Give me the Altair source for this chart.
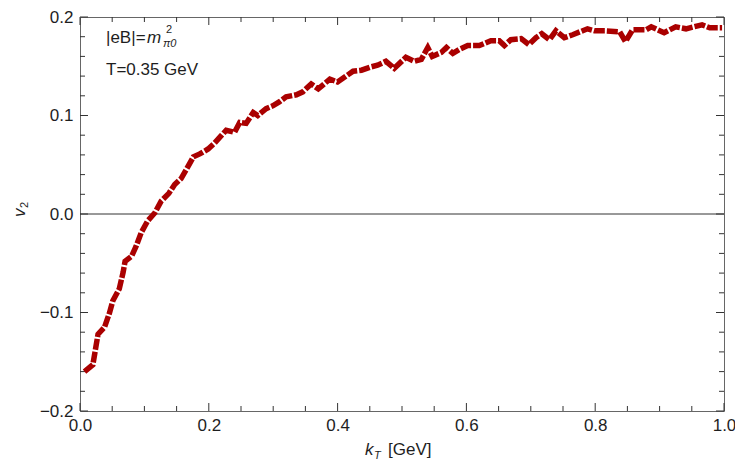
import altair as alt
import pandas as pd

# ---- data ----
kt = [0.007, 0.020, 0.028, 0.038, 0.046, 0.051, 0.061, 0.067, 0.070, 0.080,
      0.087, 0.095, 0.105, 0.116, 0.126, 0.138, 0.147, 0.157, 0.165, 0.176,
      0.186, 0.199, 0.209, 0.220, 0.227, 0.240, 0.248, 0.258, 0.269, 0.276,
      0.289, 0.300, 0.310, 0.320, 0.336, 0.346, 0.359, 0.370, 0.388, 0.400,
      0.411, 0.424, 0.437, 0.450, 0.462, 0.475, 0.488, 0.506, 0.519, 0.530,
      0.540, 0.547, 0.561, 0.569, 0.579, 0.589, 0.602, 0.620, 0.638, 0.651,
      0.659, 0.669, 0.685, 0.697, 0.708, 0.717, 0.729, 0.739, 0.752, 0.765,
      0.788, 0.799, 0.815, 0.838, 0.847, 0.858, 0.879, 0.887, 0.907, 0.925,
      0.941, 0.953, 0.966, 0.978, 0.997]
v2 = [-0.160, -0.153, -0.122, -0.115, -0.100, -0.088, -0.076, -0.059, -0.048, -0.043,
      -0.033, -0.019, -0.007, 0.001, 0.013, 0.021, 0.030, 0.036, 0.045, 0.058,
      0.061, 0.066, 0.072, 0.080, 0.085, 0.083, 0.093, 0.092, 0.103, 0.100,
      0.107, 0.110, 0.114, 0.119, 0.121, 0.124, 0.132, 0.127, 0.137, 0.134,
      0.139, 0.145, 0.146, 0.149, 0.151, 0.155, 0.148, 0.159, 0.155, 0.157,
      0.169, 0.160, 0.164, 0.169, 0.163, 0.167, 0.171, 0.171, 0.176, 0.176,
      0.171, 0.177, 0.178, 0.172, 0.179, 0.183, 0.177, 0.186, 0.179, 0.182,
      0.188, 0.186, 0.186, 0.185, 0.175, 0.187, 0.187, 0.190, 0.184, 0.190,
      0.188, 0.190, 0.192, 0.189, 0.189]

x_major = [0.0, 0.2, 0.4, 0.6, 0.8, 1.0]
x_minor = [0.05, 0.1, 0.15, 0.25, 0.3, 0.35, 0.45, 0.5, 0.55, 0.65, 0.7, 0.75,
           0.85, 0.9, 0.95]
y_major = [-0.2, -0.1, 0.0, 0.1, 0.2]
y_minor = [-0.18, -0.16, -0.14, -0.12, -0.08, -0.06, -0.04, -0.02,
           0.02, 0.04, 0.06, 0.08, 0.12, 0.14, 0.16, 0.18]
zero_line = [0.0]

label_eb = ["|eB|="]
label_m = ["m"]
label_m_sup = ["2"]
label_m_sub = ["π0"]
label_temp = ["T=0.35 GeV"]
xtitle_main = ["k"]
xtitle_sub = ["T"]
xtitle_unit = ["[GeV]"]
ytitle_main = ["v"]
ytitle_sub = ["2"]

# ---- styling ----
W, H = 644, 394
FONT = "Liberation Sans"
FS = 17
TXT = "#1e1e1e"
TICK = "#333333"
MAJ, MIN = 8, 5

xs = alt.Scale(domain=[0, 1], nice=False, zero=False)
ys = alt.Scale(domain=[-0.2, 0.2], nice=False, zero=False)

x_axis = alt.Axis(values=x_major, format=".1f", title=None, ticks=False, domain=False,
                  grid=False, labelFlush=False, labelOverlap=False, labelPadding=6,
                  labelFont=FONT, labelFontSize=FS, labelColor=TXT)
y_axis = alt.Axis(values=y_major, format=".1f", title=None, ticks=False, domain=False,
                  grid=False, labelFlush=False, labelOverlap=False, labelPadding=7,
                  labelFont=FONT, labelFontSize=FS, labelColor=TXT)

df = pd.DataFrame({"kt": kt, "v2": v2})

line = alt.Chart(df).mark_line(
    color="#AA0000", strokeWidth=5.5, strokeDash=[11, 2], strokeCap="butt"
).encode(
    x=alt.X("kt:Q", scale=xs, axis=x_axis),
    y=alt.Y("v2:Q", scale=ys, axis=y_axis),
)

zero = alt.Chart(pd.DataFrame({"y": zero_line})).mark_rule(
    color="#333333", strokeWidth=1
).encode(y=alt.Y("y:Q", scale=ys, axis=y_axis))


def xticks(values, length, top):
    d = pd.DataFrame({"x": values})
    if top:
        yy, yy2 = 0, length
    else:
        yy, yy2 = H, H - length
    return alt.Chart(d).mark_rule(color=TICK, strokeWidth=1).encode(
        x=alt.X("x:Q", scale=xs, axis=x_axis),
        y=alt.value(yy), y2=alt.value(yy2))


def yticks(values, length, right):
    d = pd.DataFrame({"y": values})
    if right:
        xx, xx2 = W, W - length
    else:
        xx, xx2 = 0, length
    return alt.Chart(d).mark_rule(color=TICK, strokeWidth=1).encode(
        y=alt.Y("y:Q", scale=ys, axis=y_axis),
        x=alt.value(xx), x2=alt.value(xx2))


def txt(values, x, y, size=FS, italic=False, angle=0):
    kw = dict(font=FONT, fontSize=size, color=TXT, align="left", baseline="alphabetic")
    if italic:
        kw["fontStyle"] = "italic"
    if angle:
        kw["angle"] = angle
    return alt.Chart(pd.DataFrame({"t": values})).mark_text(**kw).encode(
        x=alt.value(x), y=alt.value(y), text="t:N")


layers = [
    zero,
    xticks(x_major, MAJ, False), xticks(x_minor, MIN, False),
    xticks(x_major, MAJ, True), xticks(x_minor, MIN, True),
    yticks(y_major, MAJ, False), yticks(y_minor, MIN, False),
    yticks(y_major, MAJ, True), yticks(y_minor, MIN, True),
    line,
    txt(label_eb, 26, 26),
    txt(label_m, 67, 26, italic=True),
    txt(label_m_sup, 86, 16, size=11),
    txt(label_m_sub, 83, 30, size=11, italic=True),
    txt(label_temp, 26, 58),
    txt(xtitle_main, 285, 438, italic=True),
    txt(xtitle_sub, 294, 442, size=11, italic=True),
    txt(xtitle_unit, 308, 438),
    txt(ytitle_main, -55, 200, italic=True, angle=270),
    txt(ytitle_sub, -52, 191, size=11, angle=270),
]

chart = alt.layer(*layers).properties(
    width=W, height=H,
    autosize=alt.AutoSizeParams(type="none"),
    padding={"left": 72, "top": 9, "right": 11, "bottom": 49},
).configure_view(stroke="#666666", strokeWidth=1)

chart.save("out.html", embed_options={"renderer": "svg", "actions": False})
